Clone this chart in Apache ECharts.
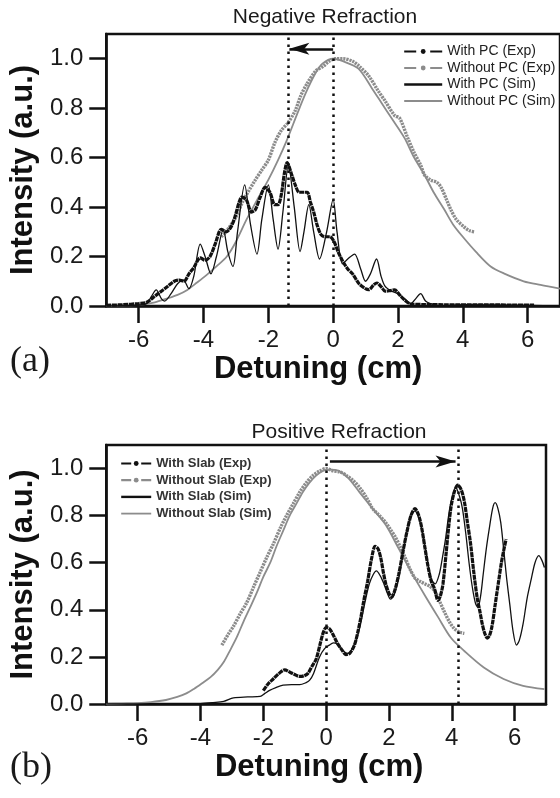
<!DOCTYPE html>
<html><head><meta charset="utf-8">
<script src="https://cdn.jsdelivr.net/npm/echarts@6/dist/echarts.min.js"></script>
<style>html,body{margin:0;padding:0;background:#fff}#c{width:560px;height:798px}</style>
</head><body><div id="c"></div>
<script>
// ---------- data ----------
const xTicks = [-6, -4, -2, 0, 2, 4, 6];
const yTicks = [0, 0.2, 0.4, 0.6, 0.8, 1.0];
const titlesText = ['Negative Refraction', 'Positive Refraction'];
const panelText = ['(a)', '(b)'];
const legendA = ['With PC (Exp)', 'Without PC (Exp)', 'With PC (Sim)', 'Without PC (Sim)'];
const legendB = ['With Slab (Exp)', 'Without Slab (Exp)', 'With Slab (Sim)', 'Without Slab (Sim)'];

// Panel (a): Negative refraction
const aWithPCExp = [[-7.0,0.003],[-6.5,0.005],[-6.0,0.01],[-5.75,0.015],[-5.5,0.04],[-5.3,0.06],[-5.1,0.08],[-4.9,0.1],[-4.75,0.105],[-4.6,0.1],[-4.45,0.13],[-4.3,0.155],[-4.1,0.195],[-3.95,0.185],[-3.8,0.2],[-3.64,0.25],[-3.45,0.31],[-3.3,0.3],[-3.15,0.32],[-3.03,0.36],[-2.9,0.42],[-2.82,0.44],[-2.68,0.43],[-2.52,0.38],[-2.4,0.39],[-2.25,0.44],[-2.1,0.48],[-1.95,0.46],[-1.8,0.41],[-1.7,0.41],[-1.6,0.45],[-1.5,0.54],[-1.42,0.58],[-1.3,0.54],[-1.17,0.49],[-1.05,0.46],[-0.9,0.46],[-0.8,0.46],[-0.7,0.42],[-0.6,0.38],[-0.5,0.33],[-0.38,0.29],[-0.25,0.28],[-0.1,0.28],[0.03,0.26],[0.15,0.22],[0.3,0.18],[0.45,0.15],[0.6,0.13],[0.8,0.09],[1.0,0.07],[1.1,0.066],[1.25,0.085],[1.35,0.093],[1.5,0.075],[1.6,0.06],[1.75,0.062],[1.9,0.065],[2.05,0.045],[2.2,0.025],[2.4,0.008],[2.8,0.006],[3.5,0.005],[4.5,0.005],[5.5,0.004],[6.2,0.004]];
const aWithoutPCExp = [[-3.45,0.28],[-3.25,0.31],[-3.0,0.36],[-2.8,0.42],[-2.63,0.46],[-2.4,0.51],[-2.2,0.55],[-2.0,0.59],[-1.8,0.66],[-1.6,0.71],[-1.4,0.74],[-1.17,0.79],[-1.0,0.85],[-0.8,0.9],[-0.54,0.95],[-0.3,0.97],[-0.12,0.99],[0.08,1.0],[0.3,1.0],[0.6,0.99],[0.8,0.97],[1.1,0.93],[1.39,0.87],[1.6,0.83],[1.9,0.77],[2.05,0.76],[2.3,0.68],[2.5,0.62],[2.7,0.57],[2.82,0.53],[3.0,0.51],[3.2,0.5],[3.33,0.48],[3.5,0.43],[3.63,0.39],[3.8,0.35],[4.04,0.32],[4.2,0.305],[4.35,0.3]];
const aWithPCSim = [[-7,0],[-6,0.003],[-5.75,0.01],[-5.6,0.04],[-5.46,0.065],[-5.3,0.03],[-5.2,0.02],[-5.0,0.05],[-4.8,0.09],[-4.62,0.105],[-4.45,0.07],[-4.3,0.12],[-4.1,0.25],[-3.95,0.2],[-3.77,0.13],[-3.6,0.2],[-3.39,0.31],[-3.25,0.22],[-3.09,0.16],[-2.95,0.3],[-2.73,0.49],[-2.55,0.33],[-2.35,0.21],[-2.2,0.35],[-2.0,0.49],[-1.85,0.35],[-1.7,0.23],[-1.55,0.38],[-1.38,0.57],[-1.2,0.4],[-1.02,0.22],[-0.9,0.3],[-0.75,0.41],[-0.6,0.3],[-0.42,0.19],[-0.2,0.3],[0.0,0.43],[0.12,0.3],[0.29,0.17],[0.45,0.19],[0.66,0.21],[0.85,0.15],[1.0,0.1],[1.15,0.13],[1.34,0.19],[1.48,0.12],[1.6,0.08],[1.8,0.06],[2.0,0.05],[2.2,0.03],[2.4,0.01],[2.55,0.03],[2.7,0.05],[2.85,0.02],[3.0,0.01],[3.3,0.0],[4.0,0.005],[7.0,0.0]];
const aWithoutPCSim = [[-7,0.0],[-6.5,0.002],[-6,0.005],[-5.5,0.015],[-5.13,0.03],[-4.8,0.045],[-4.5,0.065],[-4.2,0.095],[-3.9,0.126],[-3.6,0.16],[-3.28,0.2],[-3.0,0.26],[-2.67,0.35],[-2.3,0.44],[-2.0,0.51],[-1.7,0.59],[-1.43,0.67],[-1.1,0.78],[-0.85,0.86],[-0.55,0.94],[-0.33,0.98],[0,1.0],[0.3,0.99],[0.78,0.96],[1.2,0.88],[1.5,0.82],[1.8,0.76],[2.2,0.68],[2.5,0.6],[2.82,0.53],[3.1,0.46],[3.43,0.39],[3.7,0.33],[4.0,0.28],[4.4,0.22],[4.86,0.16],[5.3,0.13],[5.88,0.1],[6.4,0.085],[7.0,0.07]];
const aGuideX = [-1.4, 0];
const aArrow = [0, -1.35, 1.04];   // from x, to x, at y

// Panel (b): Positive refraction
const bWithSlabExp = [[-2.0,0.057],[-1.85,0.085],[-1.68,0.107],[-1.5,0.13],[-1.32,0.145],[-1.15,0.135],[-1.0,0.125],[-0.84,0.117],[-0.7,0.12],[-0.58,0.13],[-0.45,0.16],[-0.32,0.19],[-0.2,0.25],[-0.1,0.3],[0.0,0.325],[0.1,0.32],[0.2,0.3],[0.35,0.26],[0.5,0.23],[0.63,0.21],[0.75,0.215],[0.9,0.25],[1.0,0.3],[1.11,0.37],[1.2,0.44],[1.32,0.52],[1.45,0.62],[1.56,0.67],[1.65,0.66],[1.74,0.62],[1.82,0.56],[1.9,0.51],[2.0,0.47],[2.08,0.455],[2.18,0.48],[2.31,0.55],[2.45,0.65],[2.57,0.73],[2.7,0.8],[2.83,0.83],[2.95,0.8],[3.04,0.75],[3.15,0.66],[3.25,0.58],[3.35,0.52],[3.45,0.49],[3.56,0.44],[3.64,0.46],[3.72,0.51],[3.82,0.64],[3.9,0.75],[3.98,0.84],[4.08,0.9],[4.19,0.93],[4.3,0.91],[4.4,0.86],[4.5,0.77],[4.6,0.68],[4.7,0.56],[4.81,0.45],[4.9,0.39],[4.97,0.34],[5.05,0.3],[5.13,0.28],[5.2,0.29],[5.28,0.33],[5.38,0.42],[5.49,0.52],[5.58,0.6],[5.65,0.65],[5.73,0.7]];
const bWithoutSlabExp = [[-3.32,0.25],[-3.1,0.3],[-2.95,0.33],[-2.75,0.38],[-2.53,0.43],[-2.3,0.5],[-2.1,0.56],[-1.9,0.62],[-1.68,0.68],[-1.45,0.75],[-1.26,0.8],[-1.05,0.85],[-0.84,0.9],[-0.63,0.94],[-0.42,0.97],[-0.2,0.99],[0.0,1.0],[0.23,0.99],[0.45,0.985],[0.65,0.97],[0.85,0.95],[1.06,0.92],[1.27,0.88],[1.48,0.83],[1.7,0.8],[1.9,0.77],[2.05,0.74],[2.2,0.71],[2.35,0.67],[2.52,0.62],[2.68,0.57],[2.83,0.535],[3.0,0.52],[3.15,0.51],[3.3,0.5],[3.46,0.48],[3.6,0.44],[3.77,0.39],[3.92,0.35],[4.08,0.32],[4.25,0.305],[4.4,0.3]];
const bWithSlabSim = [[-7,0],[-5,0.0],[-4,0.002],[-3.6,0.006],[-3.26,0.011],[-2.95,0.026],[-2.5,0.03],[-2.1,0.032],[-1.95,0.045],[-1.8,0.058],[-1.6,0.07],[-1.37,0.08],[-1.1,0.082],[-0.84,0.082],[-0.65,0.09],[-0.53,0.1],[-0.4,0.13],[-0.21,0.2],[-0.05,0.235],[0.1,0.25],[0.23,0.26],[0.35,0.255],[0.44,0.24],[0.6,0.22],[0.7,0.215],[0.85,0.24],[1.0,0.29],[1.11,0.35],[1.25,0.44],[1.375,0.51],[1.5,0.55],[1.6,0.565],[1.72,0.545],[1.84,0.51],[1.95,0.47],[2.05,0.445],[2.15,0.46],[2.31,0.535],[2.45,0.64],[2.57,0.73],[2.7,0.8],[2.83,0.82],[2.95,0.79],[3.05,0.74],[3.15,0.67],[3.25,0.59],[3.35,0.53],[3.47,0.51],[3.6,0.55],[3.7,0.62],[3.8,0.7],[3.9,0.8],[3.98,0.86],[4.13,0.92],[4.25,0.88],[4.34,0.83],[4.45,0.72],[4.55,0.6],[4.65,0.5],[4.75,0.43],[4.83,0.41],[4.92,0.46],[5.0,0.55],[5.1,0.66],[5.2,0.75],[5.3,0.83],[5.38,0.855],[5.47,0.83],[5.56,0.77],[5.65,0.66],[5.75,0.53],[5.85,0.42],[5.95,0.31],[6.06,0.25],[6.15,0.27],[6.27,0.34],[6.4,0.45],[6.53,0.53],[6.65,0.6],[6.77,0.63],[6.87,0.61],[6.95,0.58]];
const bWithoutSlabSim = [[-7,0],[-6.5,0.002],[-6,0.004],[-5.58,0.008],[-5.1,0.017],[-4.74,0.03],[-4.45,0.045],[-4.2,0.065],[-3.95,0.088],[-3.68,0.114],[-3.45,0.145],[-3.26,0.178],[-3.05,0.23],[-2.84,0.285],[-2.63,0.35],[-2.42,0.41],[-2.2,0.475],[-2.0,0.54],[-1.78,0.6],[-1.58,0.67],[-1.37,0.735],[-1.16,0.8],[-0.95,0.85],[-0.74,0.9],[-0.53,0.94],[-0.32,0.97],[-0.1,0.99],[0.1,0.995],[0.4,0.99],[0.7,0.96],[1.06,0.9],[1.48,0.83],[1.9,0.76],[2.31,0.66],[2.73,0.556],[3.15,0.46],[3.56,0.37],[3.98,0.28],[4.4,0.225],[5.02,0.155],[5.65,0.106],[6.27,0.077],[6.95,0.063]];
const bGuideX = [0, 4.22];
const bArrow = [0.12, 4.12, 1.03];

// ---------- styling ----------
const FONT = 'Liberation Sans, Arial, sans-serif';
const INK = '#111';
const GRAY = '#8c8c8c';

function xAx(i) {
  return {
    type: 'value', gridIndex: i, min: -7, max: 7,
    name: 'Detuning (cm)', nameLocation: 'middle', nameGap: 48,
    nameTextStyle: { fontFamily: FONT, fontSize: 31, fontWeight: 'bold', color: INK, padding: [0, i === 0 ? 30 : 14, 0, 0] },
    axisLine: { show: true, onZero: false, lineStyle: { color: INK, width: 2.5 } },
    axisTick: { show: true, inside: false, length: 17, lineStyle: { color: INK, width: 2.5 }, customValues: xTicks },
    axisLabel: { customValues: xTicks, fontFamily: FONT, fontSize: 24, color: '#1a1a1a', margin: 22 },
    splitLine: { show: false }
  };
}
function yAx(i) {
  return {
    type: 'value', gridIndex: i, min: 0, max: 1.1,
    name: 'Intensity (a.u.)', nameLocation: 'middle', nameGap: 67, nameRotate: 90,
    nameTextStyle: { fontFamily: FONT, fontSize: 31, fontWeight: 'bold', color: INK },
    axisLine: { show: true, onZero: false, lineStyle: { color: INK, width: 2.5 } },
    axisTick: { show: true, inside: false, length: 17, lineStyle: { color: INK, width: 2.5 }, customValues: yTicks },
    axisLabel: { customValues: yTicks, fontFamily: FONT, fontSize: 24, color: '#1a1a1a', margin: 23, formatter: v => v.toFixed(1) },
    splitLine: { show: false }
  };
}
function ser(name, data, i, kind) {
  const exp = kind === 'expK' || kind === 'expG';
  const color = (kind === 'expK' || kind === 'simK') ? INK : GRAY;
  const width = kind === 'expK' ? 3.2 : kind === 'expG' ? 3.4 : kind === 'simK' ? 1.3 : 1.8;
  const type = kind === 'expK' ? [5, 0.7] : kind === 'expG' ? [2.2, 0.9] : 'solid';
  return {
    type: 'line', name, data, xAxisIndex: i, yAxisIndex: i,
    symbol: exp ? 'circle' : 'none', showSymbol: false, smooth: 0.3,
    lineStyle: { color, width, type }, itemStyle: { color },
    silent: true, animation: false,
    z: (kind === 'simG' || kind === 'expG') ? 2 : 3
  };
}
function guideLines(xs) {
  return { silent: true, animation: false, symbol: ['none', 'none'], label: { show: false },
    lineStyle: { color: INK, width: 2.5, type: [2.5, 4.5] },
    data: xs.map(v => ({ xAxis: v })) };
}
function arrowLine(a) {
  return { silent: true, animation: false, symbol: ['none', 'arrow'], symbolSize: [9, 20], label: { show: false },
    lineStyle: { color: INK, width: 2.5, type: 'solid' }, itemStyle: { color: INK },
    data: [[{ coord: [a[0], a[2]] }, { coord: [a[1], a[2]] }]] };
}
function legItems(names, w) {
  const dash = w > 34 ? [12, 14] : [10, 10];
  return names.map((n, k) => {
    if (k < 2) return { name: n, lineStyle: { type: dash, width: 2.2 } };
    return { name: n, lineStyle: { type: 'solid', width: k === 2 ? 2.4 : 1.8 }, itemStyle: { opacity: 0 } };
  });
}

const sA = [
  ser(legendA[3], aWithoutPCSim, 0, 'simG'),
  ser(legendA[1], aWithoutPCExp, 0, 'expG'),
  ser(legendA[2], aWithPCSim, 0, 'simK'),
  ser(legendA[0], aWithPCExp, 0, 'expK')
];
sA[3].markLine = guideLines(aGuideX);
sA[2].markLine = arrowLine(aArrow);
const sB = [
  ser(legendB[3], bWithoutSlabSim, 1, 'simG'),
  ser(legendB[1], bWithoutSlabExp, 1, 'expG'),
  ser(legendB[2], bWithSlabSim, 1, 'simK'),
  ser(legendB[0], bWithSlabExp, 1, 'expK')
];
sB[3].markLine = guideLines(bGuideX);
sB[2].markLine = arrowLine(bArrow);

const chart = echarts.init(document.getElementById('c'), null, { renderer: 'canvas' });
chart.setOption({
  animation: false,
  backgroundColor: '#fff',
  grid: [
    { left: 105, top: 34, width: 458, height: 272, show: true, borderColor: INK, borderWidth: 2.5, backgroundColor: 'transparent' },
    { left: 105, top: 445, width: 441, height: 259, show: true, borderColor: INK, borderWidth: 2.5, backgroundColor: 'transparent' }
  ],
  xAxis: [xAx(0), xAx(1)],
  yAxis: [yAx(0), yAx(1)],
  legend: [
    { data: legItems(legendA, 38), orient: 'vertical', left: 398, top: 39, itemWidth: 38, itemHeight: 6, itemGap: 1.5,
      selectedMode: false, textStyle: { fontFamily: FONT, fontSize: 14, color: '#222', lineHeight: 15 } },
    { data: legItems(legendB, 30), orient: 'vertical', left: 115, top: 451, itemWidth: 30, itemHeight: 6, itemGap: 1.7,
      selectedMode: false, textStyle: { fontFamily: FONT, fontSize: 13, fontWeight: 'bold', color: '#333', lineHeight: 15 } }
  ],
  graphic: [
    { type: 'text', x: 325, y: 17, style: { text: titlesText[0], font: '21px ' + FONT, fill: '#1a1a1a', textAlign: 'center', textVerticalAlign: 'middle' } },
    { type: 'text', x: 339, y: 432, style: { text: titlesText[1], font: '21px ' + FONT, fill: '#1a1a1a', textAlign: 'center', textVerticalAlign: 'middle' } },
    { type: 'text', x: 10, y: 362, style: { text: panelText[0], font: '36px Liberation Serif, Times New Roman, serif', fill: '#1a1a1a', textAlign: 'left', textVerticalAlign: 'middle' } },
    { type: 'text', x: 10, y: 768, style: { text: panelText[1], font: '36px Liberation Serif, Times New Roman, serif', fill: '#1a1a1a', textAlign: 'left', textVerticalAlign: 'middle' } }
  ],
  series: sA.concat(sB)
});
</script></body></html>
